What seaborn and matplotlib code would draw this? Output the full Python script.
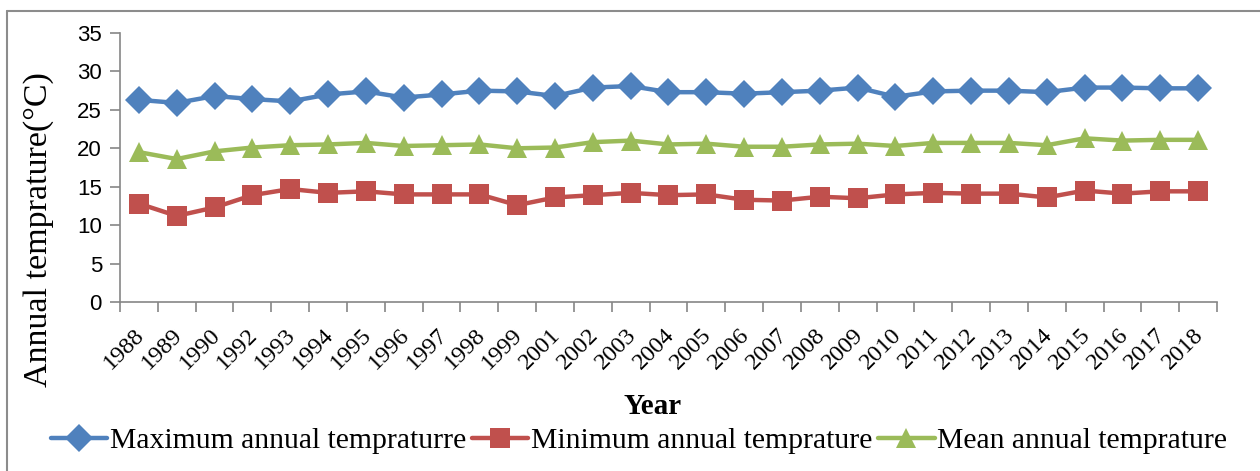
import numpy as np
import pandas as pd
import matplotlib
matplotlib.use("Agg")
import matplotlib.pyplot as plt
import matplotlib.transforms as mtransforms
from matplotlib.lines import Line2D
import seaborn as sns

years = ["1988", "1989", "1990", "1992", "1993", "1994", "1995", "1996", "1997", "1998",
         "1999", "2001", "2002", "2003", "2004", "2005", "2006", "2007", "2008", "2009",
         "2010", "2011", "2012", "2013", "2014", "2015", "2016", "2017", "2018"]
max_temp = [26.3, 25.9, 26.8, 26.4, 26.1, 27.0, 27.4, 26.6, 27.0, 27.5,
            27.4, 26.8, 27.9, 28.1, 27.3, 27.3, 27.1, 27.3, 27.5, 27.9,
            26.7, 27.4, 27.5, 27.5, 27.3, 27.9, 27.9, 27.8, 27.8]
min_temp = [12.8, 11.2, 12.3, 13.9, 14.7, 14.2, 14.4, 14.0, 14.0, 14.0,
            12.6, 13.6, 13.9, 14.2, 13.9, 14.0, 13.3, 13.2, 13.7, 13.5,
            14.0, 14.2, 14.1, 14.1, 13.6, 14.5, 14.1, 14.4, 14.4]
mean_temp = [19.5, 18.6, 19.6, 20.1, 20.4, 20.5, 20.7, 20.3, 20.4, 20.5,
             20.0, 20.1, 20.8, 21.0, 20.5, 20.6, 20.2, 20.2, 20.5, 20.6,
             20.3, 20.7, 20.7, 20.7, 20.4, 21.3, 21.0, 21.1, 21.1]
series_names = ["Maximum annual tempraturre", "Minimum annual temprature", "Mean annual temprature"]
colors = ["#4F81BD", "#C0504D", "#9BBB59"]
markers = ["D", "s", "^"]
marker_sizes = [14.5, 14, 15]

sns.set_style("white")
plt.rcParams["font.family"] = ["Liberation Serif", "DejaVu Serif"]
plt.rcParams["text.color"] = "black"
plt.rcParams["axes.labelcolor"] = "black"
plt.rcParams["xtick.color"] = "black"
plt.rcParams["ytick.color"] = "black"

df = pd.DataFrame({
    "Year": years * 3,
    "Temp": max_temp + min_temp + mean_temp,
    "Series": [series_names[0]] * len(years) + [series_names[1]] * len(years) + [series_names[2]] * len(years),
})

fig = plt.figure(figsize=(12.6, 4.71), dpi=100)
ax = fig.add_axes([120 / 1260, 1 - 302 / 471, (1217 - 120) / 1260, (302 - 33) / 471])

for name, col, mk, ms in zip(series_names, colors, markers, marker_sizes):
    sub = df[df["Series"] == name]
    sns.lineplot(data=sub, x="Year", y="Temp", ax=ax, color=col, marker=mk,
                 markersize=ms, markeredgewidth=0, linewidth=3.2, sort=False,
                 legend=False)

ax.set_xlim(-0.5, len(years) - 0.5)
ax.set_ylim(0, 35)
ax.set_yticks(np.arange(0, 36, 5))
ax.set_xticks(np.arange(len(years)))
ax.set_xticklabels(years, rotation=45, ha="right", rotation_mode="anchor",
                   fontsize=17.5, family=["Liberation Serif"])
ax.set_xticks(np.arange(-0.5, len(years), 1), minor=True)
ax.tick_params(bottom=True, left=True, which="both")
ax.tick_params(axis="x", which="major", length=0, pad=16, labelcolor="black")
ax.tick_params(axis="x", which="minor", length=7, width=1.2, color="#868686", direction="out")
ax.tick_params(axis="y", which="major", length=7, width=1.2, color="#868686",
               direction="out", labelsize=16, pad=6, labelcolor="black")
for lab in ax.get_yticklabels():
    lab.set_family(["Liberation Sans"])
shift = mtransforms.ScaledTranslation(-5 / 100, 0, fig.dpi_scale_trans)
for lab in ax.get_xticklabels():
    lab.set_transform(lab.get_transform() + shift)

for s in ["top", "right"]:
    ax.spines[s].set_visible(False)
for s in ["left", "bottom"]:
    ax.spines[s].set_color("#868686")
    ax.spines[s].set_linewidth(1.2)

ax.set_xlabel("")
ax.set_ylabel("Annual temprature(\u00b0C)", fontsize=24.5)
ax.yaxis.set_label_coords((54 - 120) / 1097, (302 - 230) / 269)
fig.text(653 / 1260, 1 - 407 / 471, "Year", fontsize=21, fontweight="bold",
         ha="center", va="center")

handles = [Line2D([0], [0], color=c, marker=m, markersize=ms, markeredgewidth=0,
                  linewidth=3.2) for c, m, ms in zip(colors, markers, marker_sizes)]
fig.legend(handles, series_names, loc="center", bbox_to_anchor=(639 / 1260, 1 - 441 / 471),
           ncol=3, frameon=False, fontsize=21.3, handlelength=1.9, handletextpad=0.1,
           columnspacing=0.2, borderaxespad=0, borderpad=0)

# figure frame (left and top edges visible)
fig.add_artist(Line2D([7 / 1260, 7 / 1260], [0, 1 - 11 / 471], transform=fig.transFigure,
                      color="#8c8c8c", linewidth=1.5))
fig.add_artist(Line2D([7 / 1260, 1], [1 - 11 / 471, 1 - 11 / 471], transform=fig.transFigure,
                      color="#8c8c8c", linewidth=1.5))

fig.savefig("out.png", dpi=100)
